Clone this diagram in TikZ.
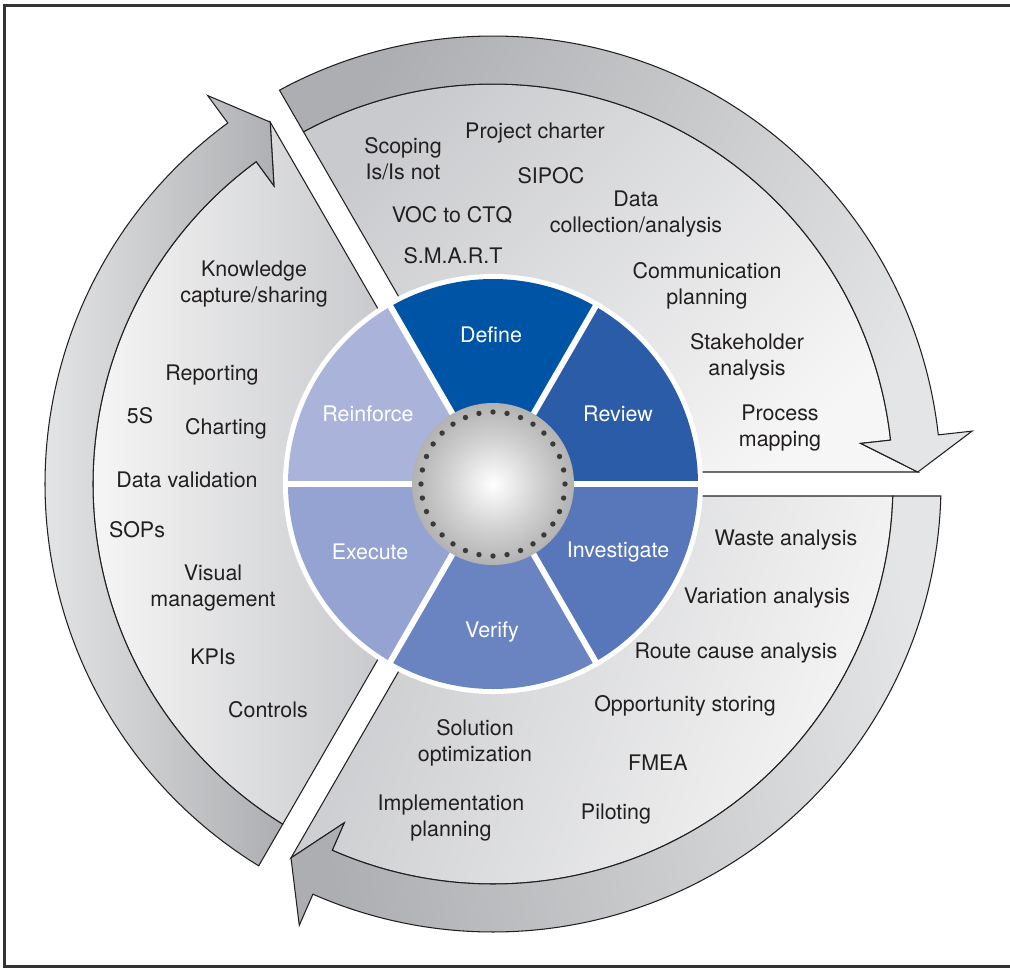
\documentclass[tikz,border=0pt]{standalone}
\usepackage{fontspec}
\setmainfont{TeX Gyre Heros}
\usepackage{tikz}
\usetikzlibrary{calc}
\definecolor{LSDefine}{HTML}{0054A6}
\definecolor{LSReview}{HTML}{2A5CA8}
\definecolor{LSInvest}{HTML}{5876BA}
\definecolor{LSVerify}{HTML}{6A84C2}
\definecolor{LSExecute}{HTML}{94A3D2}
\definecolor{LSReinforce}{HTML}{AAB4DB}
\definecolor{LSFaceDark}{HTML}{C9CACD}
\definecolor{LSFaceLight}{HTML}{F6F6F6}
\definecolor{LSBandDark}{HTML}{ACAEB1}
\definecolor{LSBandLight}{HTML}{E4E5E6}
\definecolor{LSInk}{HTML}{231F20}
\definecolor{LSDot}{HTML}{3A3A3A}
\definecolor{LSFrame}{HTML}{333333}
\pgfdeclareradialshading{LSBall}{\pgfpoint{0bp}{0bp}}{color(0bp)=(white); color(14bp)=(black!18); color(34bp)=(black!40); color(50bp)=(black!56)}
\tikzset{
  item/.style={text=LSInk,font=\fontsize{12.2}{14.6}\selectfont,align=center,inner sep=0pt},
  phase/.style={item,text=white},
  face/.style={draw=LSInk,line width=0.6pt,line join=miter},
  facetop/.style={face,left color=LSFaceDark,right color=LSFaceLight,shading angle=45},
  faceleft/.style={face,left color=LSFaceLight,right color=LSFaceDark},
  facelow/.style={face,left color=LSFaceDark,right color=LSFaceLight,shading angle=70},
  bandtop/.style={face,left color=LSBandDark,right color=LSBandLight,shading angle=60},
  bandleft/.style={face,left color=LSBandLight,right color=LSBandDark},
  bandlow/.style={face,left color=LSBandDark,right color=LSBandLight,shading angle=100},
  spoke/.style={white,line width=3.4pt},
  dot/.style={fill=LSDot},
  rim/.style={LSFrame,line width=1.6pt},
}
% #1 start angle (the arrow runs clockwise from here), #2 face style, #3 band style
\newcommand\phasearrow[3]{%
  \pgfmathsetmacro\arrowend{#1-120}%
  \pgfmathsetmacro\arrowbase{#1-113.7}%
  \path[#2] ({#1-asin(12/206)}:206) -- ({#1-asin(12/400)}:400)
    arc[start angle={#1-asin(12/400)},end angle=\arrowbase,radius=400]
    -- (\arrowbase:370) -- ({\arrowend+asin(12/425)}:425)
    -- ({\arrowend+asin(12/206)}:206)
    arc[start angle={\arrowend+asin(12/206)},end angle={#1-asin(12/206)},radius=206] -- cycle;
  \path[#3] ({#1-asin(12/400)}:400) -- ({#1-asin(12/448)}:448)
    arc[start angle={#1-asin(12/448)},end angle=\arrowbase,radius=448]
    -- (\arrowbase:482) -- ({\arrowend+asin(12/425)}:425) -- (\arrowbase:370) -- (\arrowbase:400)
    arc[start angle=\arrowbase,end angle={#1-asin(12/400)},radius=400] -- cycle;
}
\begin{document}
\begin{tikzpicture}[x=.02cm,y=.02cm]
    \useasboundingbox (-493,-484) rectangle (517,484);
    \draw[rim] (517,478.5) -- (-488.5,478.5) -- (-488.5,-482.5) -- (517,-482.5);
    \phasearrow{120}{facetop}{bandtop}
    \phasearrow{240}{faceleft}{bandleft}
    \phasearrow{0}{facelow}{bandlow}
    \fill[white] (0,0) circle[radius=210];
    \foreach \a/\c in {0/LSReview,60/LSDefine,120/LSReinforce,180/LSExecute,240/LSVerify,300/LSInvest}
      \fill[fill=\c] (0,0) -- (\a:205) arc[start angle=\a,end angle=\a+60,radius=205] -- cycle;
    \foreach \a in {0,60,...,300}
      \draw[spoke] (0,0) -- (\a:210);
    \shade[shading=LSBall] (0,0) circle[radius=81];
    \foreach \k in {0,...,31}
      \fill[dot] ({90+11.25*\k}:72) circle[radius=2.7];
    \node[phase] (define) at (-2,149) {Define};
    \node[phase] (review) at (125,70) {Review};
    \node[phase] (investigate) at (125,-68) {Investigate};
    \node[phase] (verify) at (-1,-148) {Verify};
    \node[phase] (execute) at (-123,-68) {Execute};
    \node[phase] (reinforce) at (-125,70) {Reinforce};
    \node[item] (scoping) at (-90,325) {Scoping\\Is/Is not};
    \node[item] (charter) at (42,351) {Project charter};
    \node[item] (sipoc) at (58,308) {SIPOC};
    \node[item] (datacoll) at (143,270) {Data\\collection/analysis};
    \node[item] (voc) at (-41,269) {VOC to CTQ};
    \node[item] (smart) at (-40,228) {S.M.A.R.T};
    \node[item] (comms) at (214,198) {Communication\\planning};
    \node[item] (stake) at (254,127) {Stakeholder\\analysis};
    \node[item] (procmap) at (287,56) {Process\\mapping};
    \node[item] (waste) at (293,-56) {Waste analysis};
    \node[item] (variation) at (274,-114) {Variation analysis};
    \node[item] (rootcause) at (243,-169) {Route cause analysis};
    \node[item] (opport) at (192,-222) {Opportunity storing};
    \node[item] (fmea) at (165,-279) {FMEA};
    \node[item] (piloting) at (123,-330) {Piloting};
    \node[item] (solution) at (-18,-259) {Solution\\optimization};
    \node[item] (implement) at (-42,-334) {Implementation\\planning};
    \node[item] (knowledge) at (-239,200) {Knowledge\\capture/sharing};
    \node[item] (reporting) at (-281,109) {Reporting};
    \node[item] (fives) at (-353,68) {5S};
    \node[item] (charting) at (-267,55) {Charting};
    \node[item] (datavalid) at (-306,4) {Data validation};
    \node[item] (sops) at (-356,-46) {SOPs};
    \node[item] (visual) at (-280,-104) {Visual\\management};
    \node[item] (kpis) at (-280,-173) {KPIs};
    \node[item] (controls) at (-225,-226) {Controls};
  \end{tikzpicture}
\end{document}
